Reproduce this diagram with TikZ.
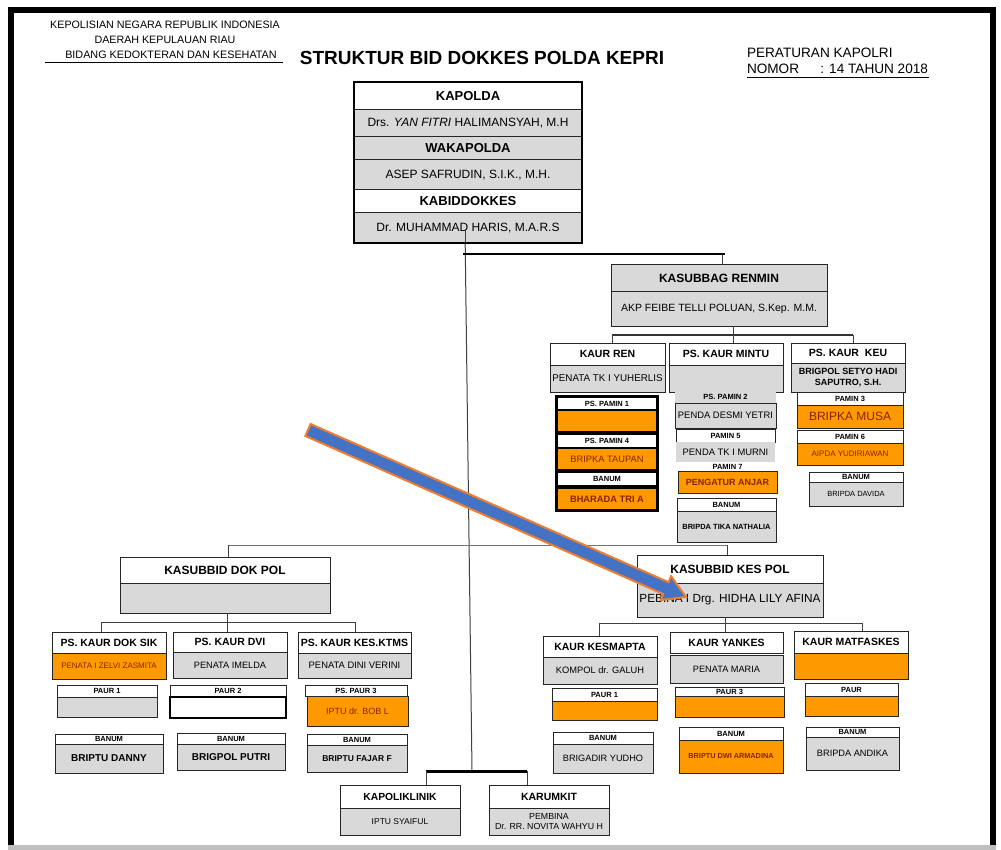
\documentclass[tikz,border=0pt]{standalone}
\usepackage{fontspec}
\setmainfont{Liberation Sans}
\usetikzlibrary{calc}

\definecolor{boxgrey}{RGB}{217,217,217}
\definecolor{boxorange}{RGB}{255,153,0}
\definecolor{inkred}{RGB}{135,35,0}
\definecolor{arrowblue}{RGB}{68,114,196}
\definecolor{arroworange}{RGB}{237,125,49}

% font size helper
\newcommand\fs[1]{\fontsize{#1}{\fpeval{1.15*#1}}\selectfont}
% \cell{name}{x1}{y1}{x2}{y2}{style}{text}: a box spanning the given corners
\newcommand\cell[7]{\node[#6, minimum width={(#4-#2)*1pt}, minimum height={(#5-#3)*1pt}] (#1) at ({(#2+#4)/2},{(#3+#5)/2}) {#7};}

\begin{document}
\begin{tikzpicture}[x=1pt,y=-1pt,
  every node/.style={inner sep=0pt, outer sep=0pt},
  cellbase/.style={rectangle, draw=black!85, line width=1pt, align=center},
  wcell/.style={cellbase, fill=white},
  gcell/.style={cellbase, fill=boxgrey},
  ocell/.style={cellbase, fill=boxorange, text=inkred},
  kaur/.style={font=\bfseries\fs{10.5}},
  tiny/.style={font=\bfseries\fs{7.5}},
  conn/.style={draw=black!75, line width=1pt},
  bar/.style={draw=black!80, line width=2pt},
  heavybar/.style={draw=black, line width=3pt}]

\useasboundingbox (0,0) rectangle (1001,850);
\fill[white] (0,0) rectangle (1001,850);

% page frame
\draw[line width=6pt] (11,845) -- (11,10) -- (993,10) -- (993,845);
\fill[black!25] (8,845) rectangle (996,850);

% header texts
\node[font=\fs{10.7}, anchor=base] (hdrA) at (165,29) {KEPOLISIAN NEGARA REPUBLIK INDONESIA};
\node[font=\fs{10.7}, anchor=base] (hdrB) at (165,44) {DAERAH KEPULAUAN RIAU};
\node[font=\fs{10.8}, anchor=base] (hdrC) at (171,59) {BIDANG KEDOKTERAN DAN KESEHATAN};
\draw[line width=0.8pt] (45,62) -- (283,62);
\node[font=\bfseries\fs{19}, anchor=base] (title) at (482,65) {STRUKTUR BID DOKKES POLDA KEPRI};
\node[font=\fs{13.6}, anchor=base west] (perA) at (747,58) {PERATURAN KAPOLRI};
\node[font=\fs{13.6}, anchor=base west] (perB) at (747,74) {NOMOR};
\node[font=\fs{13.6}, anchor=base east] (perC) at (928,74) {: 14 TAHUN 2018};
\draw[line width=0.8pt] (747,77) -- (929,77);

% trunk and connectors
\coordinate (trunktop) at (465,229);
\coordinate (trunkbot) at (472,771);
\draw[conn] (trunktop) -- (trunkbot);

% leadership stack
\cell{kapolda}{354}{82}{582}{110}{wcell,font=\bfseries\fs{13}}{KAPOLDA}
\cell{kapoldaname}{354}{110}{582}{137}{gcell,font=\fs{12}}{Drs. \textit{YAN FITRI} HALIMANSYAH, M.H}
\cell{waka}{354}{137}{582}{160}{gcell,font=\bfseries\fs{13}}{WAKAPOLDA}
\cell{wakaname}{354}{160}{582}{190}{gcell,font=\fs{12}}{ASEP SAFRUDIN, S.I.K., M.H.}
\cell{kabid}{354}{190}{582}{213}{wcell,font=\bfseries\fs{13}}{KABIDDOKKES}
\cell{kabidname}{354}{213}{582}{243}{gcell,font=\fs{12}}{Dr. MUHAMMAD HARIS, M.A.R.S}
\draw[line width=1.6pt] (kapolda.north west) rectangle (kabidname.south east);
\draw[conn] (465,229) -- (465,243);

% KASUBBAG RENMIN
\coordinate (rtL) at (463,254);
\coordinate (rtR) at (725,254);
\coordinate (rtD) at (722,254);
\cell{renmin}{611}{265}{827}{292}{gcell,font=\bfseries\fs{12}}{KASUBBAG RENMIN}
\cell{renminname}{611}{292}{827}{326}{gcell,font=\fs{10.5}}{AKP FEIBE TELLI POLUAN, S.Kep. M.M.}
\draw[bar, line width=2.5pt, draw=black] (rtL) -- (rtR);
\draw[conn] (rtD) -- (rtD |- renmin.north);

\coordinate (rbL) at (612,335);
\coordinate (rbM) at (733,335);
\coordinate (rbR) at (853,335);
\draw[bar] (rbL) -- (rbR);
\draw[conn] (rbM |- renminname.south) -- (rbM);

% KAUR REN
\cell{kaurren}{550}{343}{665}{365}{wcell,kaur}{KAUR REN}
\cell{kaurrenname}{550}{365}{665}{392}{gcell,font=\fs{9.8}}{PENATA TK I YUHERLIS}
\fill[black] (555,395) rectangle (659,512);
\cell{rpamA}{557}{397}{657}{410}{wcell,tiny,line width=1.5pt,draw=black}{PS. PAMIN 1}
\cell{rpamAname}{557}{410}{657}{432}{ocell,line width=1.5pt,draw=black}{}
\cell{rpamB}{557}{434}{657}{448}{wcell,tiny,line width=1.5pt,draw=black}{PS. PAMIN 4}
\cell{rpamBname}{557}{448}{657}{470}{ocell,font=\fs{9.3},line width=1.5pt,draw=black}{BRIPKA TAUPAN}
\cell{rbanum}{557}{472}{657}{486}{wcell,tiny,line width=1.5pt,draw=black}{BANUM}
\cell{rbanumname}{557}{488}{657}{510}{ocell,font=\bfseries\fs{9.3},line width=1.5pt,draw=black}{BHARADA TRI A}

% PS. KAUR MINTU
\cell{mintu}{669}{343}{783}{365}{wcell,kaur}{PS. KAUR MINTU}
\cell{mintuname}{669}{365}{783}{392}{gcell}{}
\fill[boxgrey] (675,390) rectangle (776,403);
\node[tiny] (mpamA) at (725.5,397) {PS. PAMIN 2};
\cell{mpamAname}{675}{403}{776}{428}{gcell,font=\fs{9.4}}{PENDA DESMI YETRI}
\cell{mpamB}{676}{429}{775}{442}{wcell,tiny}{PAMIN 5}
\cell{mpamBname}{676}{442}{775}{462}{gcell,draw=none,font=\fs{9.4}}{PENDA TK I MURNI}
\cell{mpamC}{678}{463}{777}{471}{wcell,tiny,draw=none}{PAMIN 7}
\cell{mpamCname}{678}{471}{777}{493}{ocell,font=\bfseries\fs{9}}{PENGATUR ANJAR}
\cell{mbanum}{677}{498}{776}{511}{wcell,tiny}{BANUM}
\cell{mbanumname}{677}{511}{776}{542}{gcell,font=\bfseries\fs{7.5}}{BRIPDA TIKA NATHALIA}

% PS. KAUR KEU
\cell{keu}{791}{343}{905}{363}{wcell,kaur}{PS. KAUR \ KEU}
\cell{keuname}{791}{363}{905}{392}{gcell,font=\bfseries\fs{9}}{BRIGPOL SETYO HADI\\SAPUTRO, S.H.}
\cell{kpamA}{797}{392}{903}{405}{wcell,tiny}{PAMIN 3}
\cell{kpamAname}{797}{405}{903}{428}{ocell,font=\fs{12}}{BRIPKA MUSA}
\cell{kpamB}{797}{430}{903}{443}{wcell,tiny}{PAMIN 6}
\cell{kpamBname}{797}{443}{903}{465}{ocell,font=\fs{8}}{AIPDA YUDIRIAWAN}
\cell{kbanum}{809}{472}{903}{482}{wcell,tiny}{BANUM}
\cell{kbanumname}{809}{482}{903}{506}{gcell,font=\fs{7.5}}{BRIPDA DAVIDA}

\draw[conn] (rbL) -- (rbL |- kaurren.north);
\draw[conn] (rbM) -- (rbM |- mintu.north);
\draw[conn] (rbR) -- (rbR |- keu.north);

% middle branch
\coordinate (mbL) at (228,545);
\coordinate (mbR) at (727,545);
\draw[conn, draw=black!55] (mbL) -- (mbR);

% KASUBBID DOK POL
\cell{dokpol}{120}{557}{330}{583}{wcell,font=\bfseries\fs{12}}{KASUBBID DOK POL}
\cell{dokpolname}{120}{583}{330}{613}{gcell}{}
\draw[conn] (mbL) -- (mbL |- dokpol.north);
\coordinate (dbL) at (101,622);
\coordinate (dbM) at (227,622);
\coordinate (dbR) at (355,622);
\draw[conn] (dbL) -- (dbR);
\draw[conn] (dbM |- dokpolname.south) -- (dbM);

\cell{doksik}{52}{632}{166}{653}{wcell,kaur}{PS. KAUR DOK SIK}
\cell{doksikname}{52}{653}{166}{679}{ocell,font=\fs{8}}{PENATA I ZELVI ZASMITA}
\cell{dvi}{173}{632}{287}{652}{wcell,kaur}{PS. KAUR DVI}
\cell{dviname}{173}{652}{287}{678}{gcell,font=\fs{9.2}}{PENATA IMELDA}
\cell{ktms}{298}{632}{411}{653}{wcell,kaur}{PS. KAUR KES.KTMS}
\cell{ktmsname}{298}{653}{411}{678}{gcell,font=\fs{9.4}}{PENATA DINI VERINI}
\draw[conn] (dbL) -- (dbL |- doksik.north);
\draw[conn] (dbM) -- (dbM |- dvi.north);
\draw[conn] (dbR) -- (dbR |- ktms.north);

\cell{dpaurA}{57}{685}{157}{697}{wcell,tiny}{PAUR 1}
\cell{dpaurAname}{57}{697}{157}{717}{gcell}{}
\cell{dpaurB}{170}{685}{286}{697}{wcell,tiny}{PAUR 2}
\cell{dpaurBname}{170}{697}{286}{718}{wcell,line width=2.5pt,draw=black}{}
\cell{dpaurC}{305}{685}{407}{696}{wcell,tiny}{PS. PAUR 3}
\cell{dpaurCname}{307}{696}{408}{726}{ocell,font=\fs{9}}{IPTU dr. BOB L}

\cell{dbanumA}{55}{734}{163}{744}{wcell,tiny}{BANUM}
\cell{dbanumAname}{55}{744}{163}{773}{gcell,font=\bfseries\fs{10}}{BRIPTU DANNY}
\cell{dbanumB}{177}{733}{285}{744}{wcell,tiny}{BANUM}
\cell{dbanumBname}{177}{744}{285}{770}{gcell,font=\bfseries\fs{10}}{BRIGPOL PUTRI}
\cell{dbanumC}{307}{734}{407}{745}{wcell,tiny}{BANUM}
\cell{dbanumCname}{307}{745}{407}{772}{gcell,font=\bfseries\fs{8.5}}{BRIPTU FAJAR F}

% KASUBBID KES POL
\cell{kespol}{637}{555}{823}{583}{wcell,font=\bfseries\fs{12}}{KASUBBID KES POL}
\cell{kespolname}{637}{583}{823}{617}{gcell,font=\fs{11.8}}{PEBINA I Drg. HIDHA LILY AFINA}
\draw[conn] (mbR) -- (mbR |- kespol.north);
\coordinate (kbL) at (599,623);
\coordinate (kbM) at (725,623);
\coordinate (kbR) at (862,623);
\draw[conn] (kbL) -- (kbR);
\draw[conn] (kbM |- kespolname.south) -- (kbM);

\cell{kesmapta}{543}{636}{657}{657}{wcell,kaur}{KAUR KESMAPTA}
\cell{kesmaptaname}{543}{657}{657}{684}{gcell,font=\fs{9.3}}{KOMPOL dr. GALUH}
\cell{yankes}{670}{632}{783}{653}{wcell,kaur}{KAUR YANKES}
\cell{yankesname}{670}{655}{783}{683}{gcell,font=\fs{9.2}}{PENATA MARIA}
\cell{matfas}{794}{631}{908}{653}{wcell,kaur}{KAUR MATFASKES}
\cell{matfasname}{794}{653}{908}{679}{ocell}{}
\draw[conn] (kbL) -- (kbL |- kesmapta.north);
\draw[conn] (kbM) -- (kbM |- yankes.north);
\draw[conn] (kbR) -- (kbR |- matfas.north);

\cell{kpaurA}{552}{688}{657}{701}{wcell,tiny}{PAUR 1}
\cell{kpaurAname}{552}{701}{657}{720}{ocell}{}
\cell{kpaurB}{675}{687}{784}{696}{wcell,tiny}{PAUR 3}
\cell{kpaurBname}{675}{696}{784}{717}{ocell}{}
\cell{kpaurC}{805}{683}{898}{696}{wcell,tiny}{PAUR}
\cell{kpaurCname}{805}{696}{898}{716}{ocell}{}

\cell{kbanumA}{553}{732}{653}{744}{wcell,tiny}{BANUM}
\cell{kbanumAname}{553}{744}{653}{773}{gcell,font=\fs{9.2}}{BRIGADIR YUDHO}
\cell{kbanumB}{679}{727}{783}{740}{wcell,tiny}{BANUM}
\cell{kbanumBname}{679}{740}{783}{773}{ocell,font=\bfseries\fs{7.3}}{BRIPTU DWI ARMADINA}
\cell{kbanumC}{806}{727}{899}{737}{wcell,tiny}{BANUM}
\cell{kbanumCname}{806}{737}{899}{770}{gcell,font=\fs{9.2}}{BRIPDA ANDIKA}

% clinic and hospital
\coordinate (cbL) at (426,771);
\coordinate (cbR) at (527,771);
\cell{polik}{340}{785}{460}{808}{wcell,font=\bfseries\fs{10.3}}{KAPOLIKLINIK}
\cell{polikname}{340}{808}{460}{835}{gcell,font=\fs{8.5}}{IPTU SYAIFUL}
\cell{rumkit}{489}{785}{609}{808}{wcell,font=\bfseries\fs{10.5}}{KARUMKIT}
\cell{rumkitname}{489}{808}{609}{835}{gcell,font=\fs{8.8}}{PEMBINA\\Dr. RR. NOVITA WAHYU H}
\draw[heavybar] (cbL) -- (cbR);
\draw[conn] (cbL) -- (cbL |- polik.north);
\draw[conn] (cbR) -- (cbR |- rumkit.north);

% highlight arrow
\coordinate (arrowtail) at (308,430);
\coordinate (arrowtip) at (686,597);
\coordinate (arrowneck) at ($(arrowtip)!22pt!(arrowtail)$);
\filldraw[fill=arrowblue, draw=arroworange, line width=2pt, line join=miter]
  ($(arrowtail)!6.5pt!90:(arrowtip)$) --
  ($(arrowneck)!6.5pt!-90:(arrowtail)$) --
  ($(arrowneck)!13pt!-90:(arrowtail)$) --
  (arrowtip) --
  ($(arrowneck)!13pt!90:(arrowtail)$) --
  ($(arrowneck)!6.5pt!90:(arrowtail)$) --
  ($(arrowtail)!6.5pt!-90:(arrowtip)$) -- cycle;
\end{tikzpicture}
\end{document}
